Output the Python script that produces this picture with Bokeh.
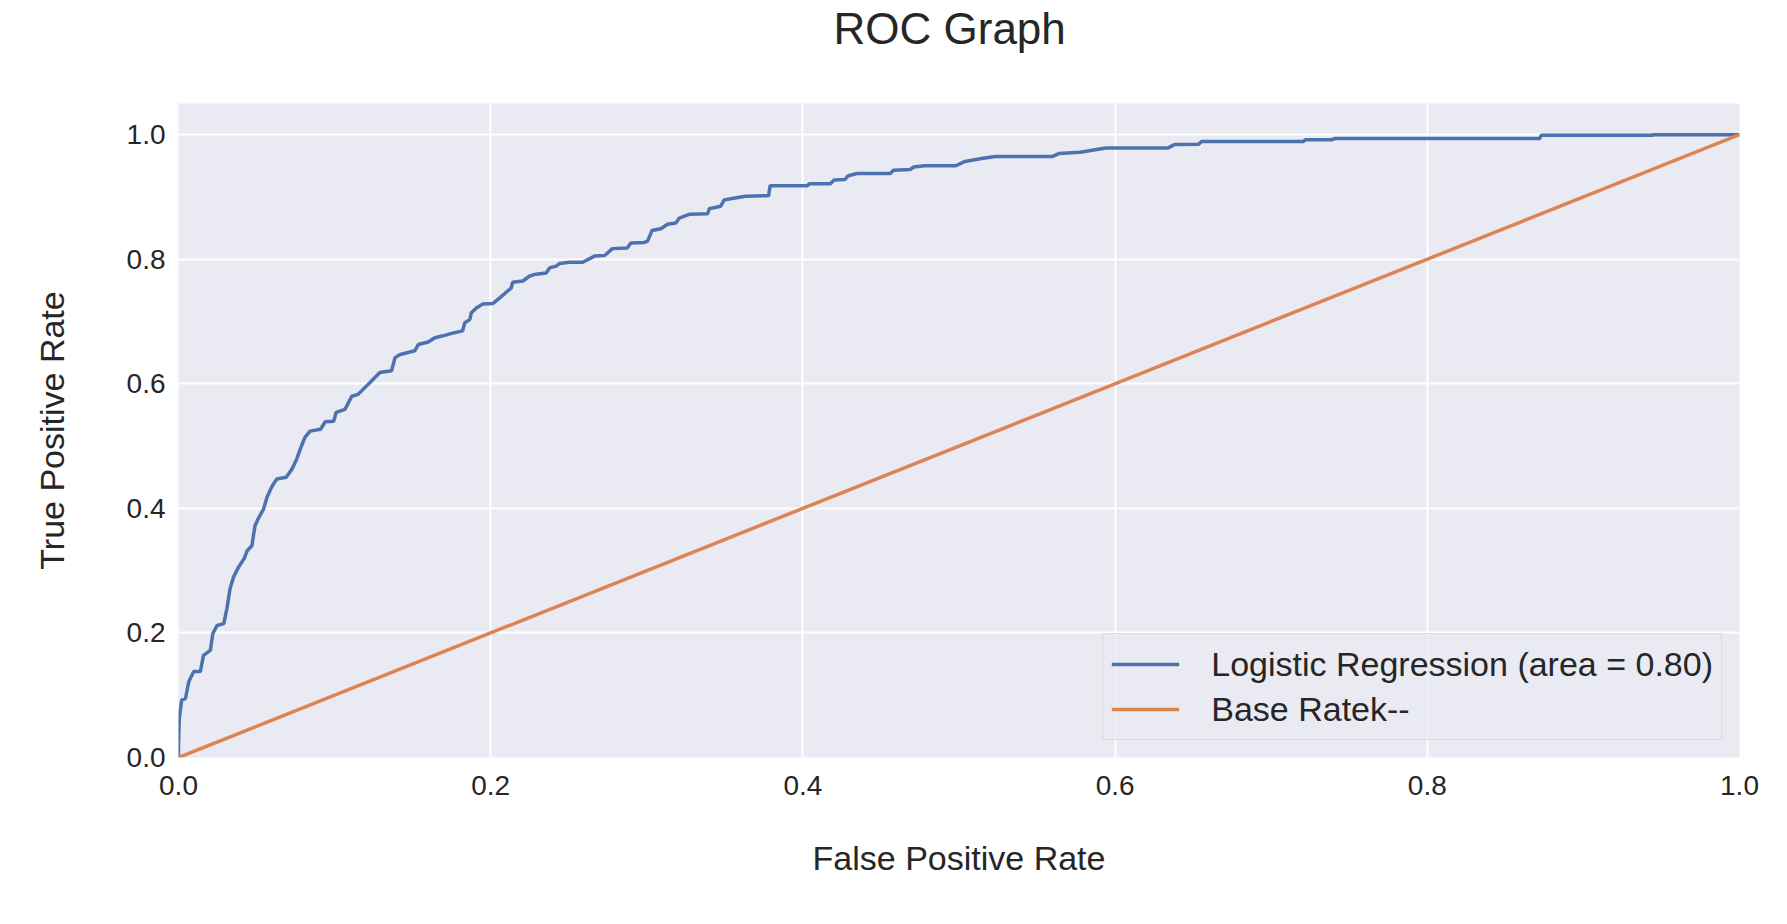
from bokeh.plotting import figure
from bokeh.models import Range1d, FixedTicker, NumeralTickFormatter, Legend, LegendItem, Title
from bokeh.embed import file_html
from bokeh.resources import INLINE

# ROC curve vertices
fpr = [0.0, 0.0, 0.0005, 0.002, 0.0045, 0.0066, 0.0098, 0.014, 0.016, 0.0204,
       0.022, 0.0247, 0.029, 0.031, 0.033, 0.0353, 0.0385, 0.042, 0.044, 0.047,
       0.049, 0.051, 0.0545, 0.0567, 0.06, 0.063, 0.069, 0.0727, 0.0757, 0.078,
       0.081, 0.0843, 0.091, 0.094, 0.0994, 0.101, 0.1067, 0.111, 0.115, 0.1227,
       0.129, 0.1365, 0.1387, 0.142, 0.1514, 0.1536, 0.16, 0.1642, 0.1695, 0.175,
       0.182, 0.1834, 0.1866, 0.1876, 0.191, 0.195, 0.2015, 0.2058, 0.2132, 0.214,
       0.2206, 0.225, 0.229, 0.2355, 0.2377, 0.242, 0.244, 0.2505, 0.259, 0.2665,
       0.273, 0.278, 0.2875, 0.2898, 0.2984, 0.3005, 0.3033, 0.309, 0.3133, 0.3186,
       0.3208, 0.3272, 0.339, 0.34, 0.3473, 0.3495, 0.3537, 0.363, 0.378, 0.379,
       0.403, 0.404, 0.4176, 0.42, 0.427, 0.429, 0.4347, 0.456, 0.458, 0.4687,
       0.471, 0.478, 0.498, 0.5038, 0.5155, 0.5232, 0.56, 0.564, 0.5777, 0.59,
       0.594, 0.634, 0.638, 0.6535, 0.6554, 0.7207, 0.722, 0.739, 0.741, 0.872,
       0.873, 0.944, 0.945, 1.0]
tpr = [0.0, 0.02, 0.0625, 0.092, 0.095, 0.122, 0.138, 0.138, 0.164, 0.172,
       0.199, 0.212, 0.215, 0.239, 0.271, 0.29, 0.306, 0.319, 0.332, 0.34,
       0.372, 0.383, 0.399, 0.418, 0.436, 0.447, 0.45, 0.463, 0.479, 0.495,
       0.514, 0.524, 0.527, 0.539, 0.54, 0.554, 0.559, 0.58, 0.583, 0.602,
       0.618, 0.621, 0.642, 0.647, 0.653, 0.663, 0.667, 0.674, 0.677, 0.681,
       0.685, 0.698, 0.703, 0.714, 0.722, 0.728, 0.729, 0.738, 0.754, 0.763,
       0.765, 0.773, 0.776, 0.778, 0.786, 0.789, 0.793, 0.795, 0.795, 0.805,
       0.806, 0.817, 0.818, 0.826, 0.827, 0.829, 0.846, 0.849, 0.856, 0.858,
       0.866, 0.872, 0.873, 0.881, 0.885, 0.895, 0.897, 0.901, 0.902, 0.918,
       0.918, 0.921, 0.921, 0.927, 0.928, 0.934, 0.9375, 0.9375, 0.943, 0.944,
       0.948, 0.95, 0.95, 0.957, 0.962, 0.965, 0.965, 0.9696, 0.9717, 0.977,
       0.9787, 0.9787, 0.984, 0.9845, 0.989, 0.989, 0.992, 0.992, 0.994, 0.994,
       0.999, 0.999, 1.0, 1.0]

base_x = [0.0, 1.0]
base_y = [0.0, 1.0]

ticks = [0.0, 0.2, 0.4, 0.6, 0.8, 1.0]
title_text = "ROC Graph"
label_lr = "Logistic Regression (area = 0.80)"
label_base = "Base Ratek--"

TEXT = "#262626"
FONT = "Liberation Sans"

p = figure(width=1771, height=908, output_backend="svg", toolbar_location=None,
           x_range=Range1d(0, 1), y_range=Range1d(0, 1.05),
           min_border_left=178, min_border_right=32, min_border_top=103,
           min_border_bottom=151)
p.title.text = ""
p.title.visible = False

# spacer panel next to the frame, then the real title above it
spacer = Title(text=" ", text_font_size="1px", standoff=46)
p.add_layout(spacer, "above")
main_title = Title(text=title_text, align="left", offset=655, vertical_align="top",
                   standoff=0, text_font=FONT, text_font_size="44px",
                   text_font_style="normal", text_color=TEXT)
p.add_layout(main_title, "above")

p.background_fill_color = "#eaeaf2"
p.border_fill_color = "white"
p.outline_line_color = None

p.grid.grid_line_color = "white"
p.grid.grid_line_width = 2

for ax in (p.xaxis, p.yaxis):
    ax.ticker = FixedTicker(ticks=ticks)
    ax.formatter = NumeralTickFormatter(format="0.0")
    ax.axis_line_color = None
    ax.major_tick_line_color = None
    ax.minor_tick_line_color = None
    ax.major_label_text_font = FONT
    ax.major_label_text_font_size = "28px"
    ax.major_label_text_color = TEXT
    ax.axis_label_text_font = FONT
    ax.axis_label_text_font_size = "34px"
    ax.axis_label_text_font_style = "normal"
    ax.axis_label_text_color = TEXT

p.xaxis.axis_label = "False Positive Rate"
p.yaxis.axis_label = "True Positive Rate"
p.xaxis.major_label_standoff = 12
p.yaxis.major_label_standoff = 7
p.xaxis.axis_label_standoff = 41
p.yaxis.axis_label_standoff = 53

r1 = p.line(fpr, tpr, line_color="#4c72b0", line_width=3.5)
r2 = p.line(base_x, base_y, line_color="#dd8452", line_width=3.5)

legend = Legend(items=[LegendItem(label=label_lr, renderers=[r1]),
                       LegendItem(label=label_base, renderers=[r2])],
                location="bottom_right")
legend.margin = 17
legend.padding = 8
legend.spacing = 1
legend.label_height = 44
legend.glyph_width = 68
legend.glyph_height = 44
legend.label_standoff = 32
legend.label_text_font = FONT
legend.label_text_font_size = "34px"
legend.label_text_color = TEXT
legend.background_fill_color = "#eaeaf2"
legend.background_fill_alpha = 0.8
legend.border_line_color = "#cccccc"
legend.border_line_width = 1.5
p.add_layout(legend, "center")

open("out.html", "w").write(file_html(p, INLINE))
